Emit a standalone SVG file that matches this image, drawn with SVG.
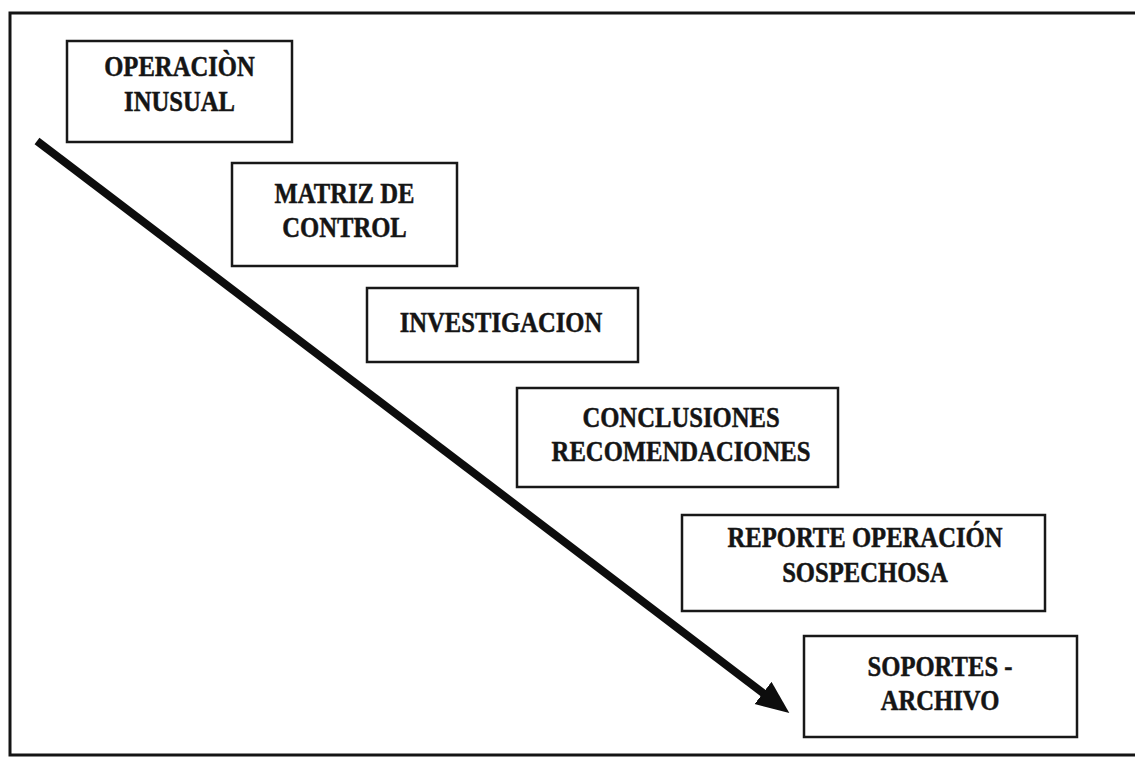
<svg xmlns="http://www.w3.org/2000/svg" width="1135" height="758" viewBox="0 0 1135 758">
  <style>
    .frame { fill: none; stroke: #141414; stroke-width: 3; }
    .box { fill: #ffffff; stroke: #181818; stroke-width: 2.5; }
    .lbl { font-family: "Liberation Serif", "Times New Roman", serif; font-weight: bold; font-size: 29px; fill: #151515; stroke: #151515; stroke-width: 0.5; text-anchor: middle; }
    .flow { stroke: #0d0d0d; stroke-width: 8; fill: none; marker-end: url(#head); }
  </style>
  <defs>
    <marker id="head" markerUnits="userSpaceOnUse" markerWidth="34" markerHeight="30" refX="10" refY="14" orient="auto">
      <path d="M0,0 L33,14 L0,28 Z" fill="#0d0d0d"/>
    </marker>
  </defs>

  <rect width="1135" height="758" fill="#ffffff"/>

  <!-- outer border: top, left and bottom edges -->
  <path class="frame" d="M1136,13 L10,13 L10,755 L1136,755"/>

  <!-- connectors -->
  <g id="connectors">
    <line class="flow" x1="37" y1="141" x2="771" y2="699"/>
  </g>

  <!-- nodes -->
  <g id="node-operacion-inusual">
    <rect class="box" x="67" y="41" width="225" height="101"/>
    <g transform="translate(179.5,0) scale(0.85,1)">
      <text class="lbl" x="0" y="76">OPERACIÒN</text>
      <text class="lbl" x="0" y="111">INUSUAL</text>
    </g>
  </g>

  <g id="node-matriz-control">
    <rect class="box" x="232" y="163" width="225" height="103"/>
    <g transform="translate(344.5,0) scale(0.85,1)">
      <text class="lbl" x="0" y="203">MATRIZ DE</text>
      <text class="lbl" x="0" y="237">CONTROL</text>
    </g>
  </g>

  <g id="node-investigacion">
    <rect class="box" x="367" y="288" width="271" height="74"/>
    <g transform="translate(501,0) scale(0.85,1)">
      <text class="lbl" x="0" y="332">INVESTIGACION</text>
    </g>
  </g>

  <g id="node-conclusiones">
    <rect class="box" x="517" y="388" width="321" height="99"/>
    <g transform="translate(681,0) scale(0.85,1)">
      <text class="lbl" x="0" y="427">CONCLUSIONES</text>
      <text class="lbl" x="0" y="461">RECOMENDACIONES</text>
    </g>
  </g>

  <g id="node-reporte">
    <rect class="box" x="682" y="515" width="363" height="96"/>
    <g transform="translate(865,0) scale(0.85,1)">
      <text class="lbl" x="0" y="547">REPORTE OPERACIÓN</text>
      <text class="lbl" x="0" y="582">SOSPECHOSA</text>
    </g>
  </g>

  <g id="node-soportes">
    <rect class="box" x="804" y="636" width="273" height="101"/>
    <g transform="translate(940,0) scale(0.85,1)">
      <text class="lbl" x="0" y="676">SOPORTES -</text>
      <text class="lbl" x="0" y="710">ARCHIVO</text>
    </g>
  </g>
</svg>
